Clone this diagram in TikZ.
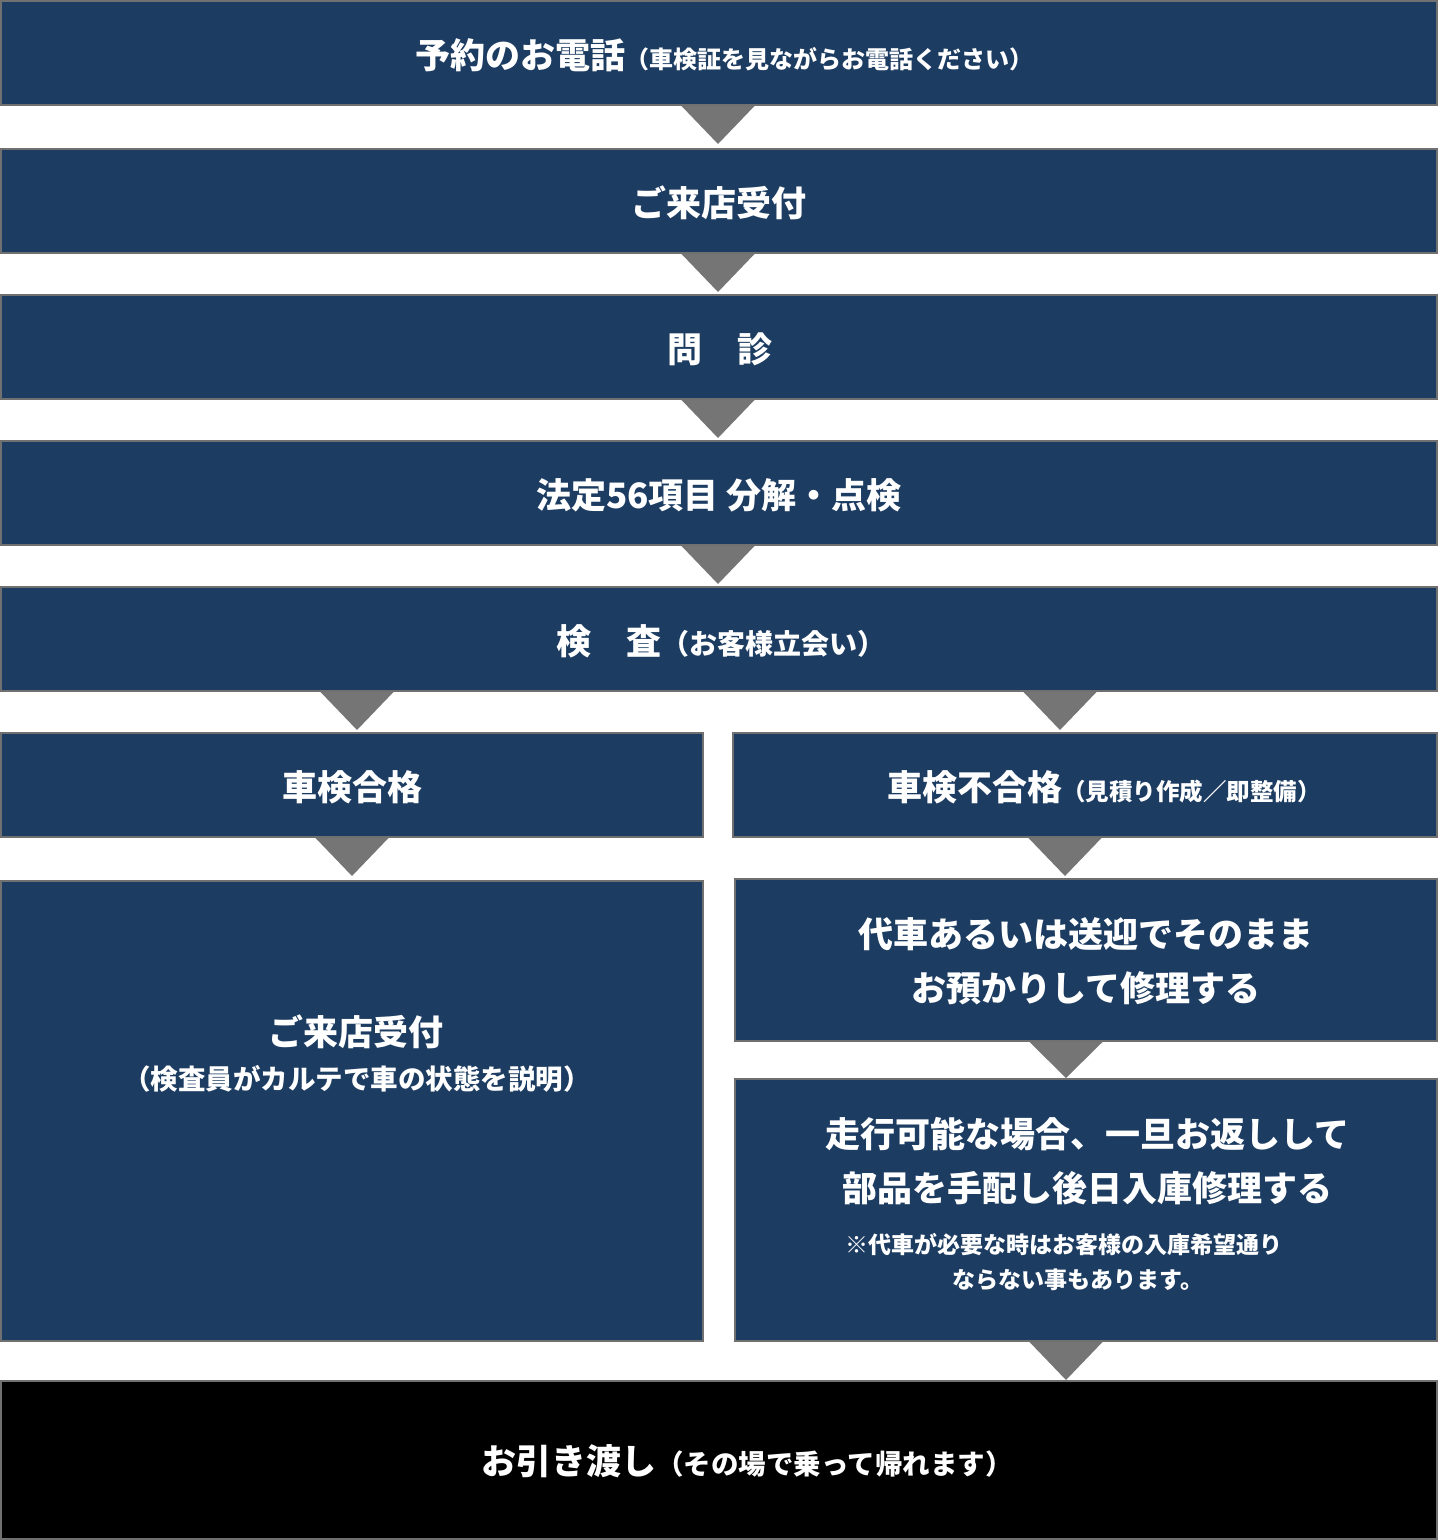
\documentclass[tikz,border=0pt]{standalone}
\usepackage{fontspec}
\setmainfont{Noto Sans CJK JP}
\usetikzlibrary{calc}
\definecolor{navy}{HTML}{1C3C62}
\definecolor{edge}{HTML}{707070}
\definecolor{trig}{HTML}{757575}
\tikzset{
  box/.style={draw=edge, line width=2pt, fill=navy, inner sep=0pt},
  blackbox/.style={draw=edge, line width=2pt, fill=black, inner sep=0pt},
  lbl/.style={text=white, inner sep=0pt, font=\bfseries, align=center},
  tri/.style={fill=trig},
}
\newcommand{\bigjp}{\fontsize{35}{42}\selectfont}
\newcommand{\smljp}[1]{\fontsize{#1}{#1}\selectfont}
\newcommand{\mytri}[2]{\fill[tri] ($(#1.south)+(#2-36.5,0)$) -- ++(73,0) -- ++(-36.5,38) -- cycle;}
\begin{document}
\begin{tikzpicture}[x=1pt,y=-1pt]
\useasboundingbox (0,0) rectangle (1438,1540);
% boxes
\node[box, minimum width=1436, minimum height=104] (b1) at (719,53) {};
\node[box, minimum width=1436, minimum height=104] (b2) at (719,201) {};
\node[box, minimum width=1436, minimum height=104] (b3) at (719,347) {};
\node[box, minimum width=1436, minimum height=104] (b4) at (719,493) {};
\node[box, minimum width=1436, minimum height=104] (b5) at (719,639) {};
\node[box, minimum width=702, minimum height=104] (b6l) at (352,785) {};
\node[box, minimum width=704, minimum height=104] (b6r) at (1085,785) {};
\node[box, minimum width=702, minimum height=460] (b7l) at (352,1111) {};
\node[box, minimum width=702, minimum height=162] (b7r) at (1086,960) {};
\node[box, minimum width=702, minimum height=262] (b8r) at (1086,1210) {};
\node[blackbox, minimum width=1436, minimum height=158] (b9) at (719,1460) {};
% triangles
\mytri{b1}{-1}
\mytri{b2}{-1}
\mytri{b3}{-1}
\mytri{b4}{-1}
\fill[tri] ($(b5.south)+(-398.5,0)$) -- ++(73,0) -- ++(-36.5,38) -- cycle;
\fill[tri] ($(b5.south)+(304.5,0)$) -- ++(73,0) -- ++(-36.5,38) -- cycle;
\mytri{b6l}{0}
\mytri{b6r}{-20}
\fill[tri] ($(b7r.south)+(-56.5,0)$) -- ++(73,0) -- ++(-36.5,36) -- cycle;
\fill[tri] ($(b8r.south)+(-56.5,0)$) -- ++(73,0) -- ++(-36.5,38) -- cycle;
% labels
\node[lbl] (t1) at (724,55) {\bigjp 予約のお電話\smljp{24}（車検証を見ながらお電話ください）};
\node[lbl] (t2) at (719,203) {\bigjp ご来店受付};
\node[lbl] (t3) at (720,349) {\bigjp 問　診};
\node[lbl] (t4) at (719,495) {\bigjp 法定56項目 分解・点検};
\node[lbl] (t5) at (721,641) {\bigjp 検　査\smljp{28}（お客様立会い）};
\node[lbl] (t6r) at (1104,787) {\bigjp 車検不合格\smljp{23.5}（見積り作成／即整備）};
\node[lbl] (t6l) at (352,787) {\bigjp 車検合格};
\node[lbl] (t7l) at (356,1032) {\bigjp ご来店受付};
\node[lbl] (t7ls) at (357,1079) {\smljp{27.5}（検査員がカルテで車の状態を説明）};
\node[lbl, font=\bfseries\fontsize{35}{54}\selectfont] (t7r) at (1086,961) {代車あるいは送迎でそのまま\\お預かりして修理する};
\node[lbl, font=\bfseries\fontsize{35}{54}\selectfont] (t8r) at (1087,1161) {走行可能な場合、一旦お返しして\\部品を手配し後日入庫修理する};
\node[lbl, font=\bfseries\fontsize{23}{35}\selectfont] (t8n1) at (1064,1245) {※代車が必要な時はお客様の入庫希望通り};
\node[lbl, font=\bfseries\fontsize{23}{35}\selectfont] (t8n2) at (1078,1280) {ならない事もあります。};
\node[lbl] (t9) at (747,1461) {\bigjp お引き渡し\smljp{27.5}（その場で乗って帰れます）};
\end{tikzpicture}
\end{document}
